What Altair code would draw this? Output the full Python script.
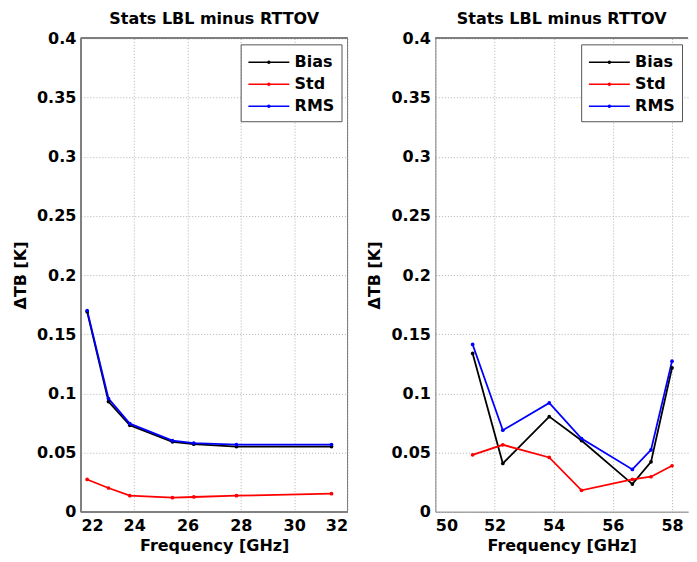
import altair as alt
import pandas as pd

# Left panel data
freq_left = [22.235, 23.035, 23.835, 25.435, 26.235, 27.835, 31.4]
bias_left = [0.169, 0.093, 0.073, 0.059, 0.057, 0.055, 0.055]
std_left = [0.0272, 0.020, 0.0135, 0.0118, 0.0124, 0.0135, 0.0152]
rms_left = [0.170, 0.0955, 0.0744, 0.060, 0.058, 0.0567, 0.0567]

# Right panel data
freq_right = [51.26, 52.28, 53.85, 54.94, 56.66, 57.29, 58.0]
bias_right = [0.1337, 0.0407, 0.0803, 0.0601, 0.0233, 0.0421, 0.1216]
std_right = [0.048, 0.0565, 0.0458, 0.018, 0.0272, 0.0295, 0.0388]
rms_right = [0.1413, 0.0688, 0.0919, 0.0618, 0.0357, 0.0522, 0.1272]

stats = ["Bias", "Std", "RMS"]
colors = ["#000000", "#ff0000", "#0000ff"]
y_ticks = [0, 0.05, 0.1, 0.15, 0.2, 0.25, 0.3, 0.35, 0.4]
x_ticks_left = [22, 24, 26, 28, 30, 32]
x_ticks_right = [50, 52, 54, 56, 58]


def make_df(freq, bias, std, rms):
    rows = []
    for name, vals in zip(stats, [bias, std, rms]):
        for f, v in zip(freq, vals):
            rows.append({"freq": f, "value": v, "stat": name})
    return pd.DataFrame(rows)


FONT = "DejaVu Sans"
LEG_SYMBOL = "M-1,0H3M0.9,0a0.1,0.1 0 1,0 0.2,0a0.1,0.1 0 1,0 -0.2,0"


def panel(df, xdomain, xticks, width, height, right_border=True):
    color = alt.Color(
        "stat:N",
        scale=alt.Scale(domain=stats, range=colors),
        sort=stats,
        legend=alt.Legend(
            title=None,
            orient="top-right",
            offset=6,
            strokeColor="#555555",
            fillColor="white",
            padding=7,
            labelFont=FONT,
            labelFontSize=16,
            labelFontWeight="bold",
            symbolType=LEG_SYMBOL,
            symbolSize=420,
            symbolStrokeWidth=1.5,
            rowPadding=3,
            labelOffset=25,
        ),
    )
    base = alt.Chart(df).encode(
        x=alt.X(
            "freq:Q",
            scale=alt.Scale(domain=xdomain, nice=False, zero=False),
            axis=alt.Axis(
                values=xticks,
                title="Frequency [GHz]",
                format="d",
            ),
        ),
        y=alt.Y(
            "value:Q",
            scale=alt.Scale(domain=[0, 0.4], nice=False),
            axis=alt.Axis(values=y_ticks, title="ΔTB [K]", format="~g"),
        ),
        color=color,
    )
    lines = base.mark_line(strokeWidth=1.8, clip=True, point=alt.OverlayMarkDef(filled=True, size=14))
    if right_border:
        border = alt.Chart(df).mark_rect(fill=None, stroke="#808080", strokeWidth=1).encode(
            x=alt.value(0), x2=alt.value(width), y=alt.value(0), y2=alt.value(height)
        )
    else:
        border = alt.Chart(df).mark_rule(stroke="#808080", strokeWidth=1).encode(
            x=alt.value(0), x2=alt.value(width), y=alt.value(0)
        )
    return alt.layer(lines, border).properties(
        width=width,
        height=height,
        title="Stats LBL minus RTTOV",
    )


left = panel(make_df(freq_left, bias_left, std_left, rms_left), [22, 32], x_ticks_left, 267, 474)
right = panel(make_df(freq_right, bias_right, std_right, rms_right), [50, 58.54], x_ticks_right, 253, 474, right_border=False)

chart = (
    alt.hconcat(left, right, spacing=18)
    .resolve_scale(color="independent")
    .properties(padding={"left": 4, "top": 3, "right": 0, "bottom": 0})
    .configure_view(stroke=None)
    .configure_axis(
        labelFont=FONT,
        labelFontSize=16,
        labelFontWeight="bold",
        labelColor="black",
        titleFont=FONT,
        titleFontSize=16,
        titleFontWeight="bold",
        titleColor="black",
        grid=True,
        gridColor="#b0b0b0",
        gridDash=[1, 2],
        gridWidth=1,
        domainColor="#808080",
        ticks=False,
        labelPadding=4,
    )
    .configure_axisY(titlePadding=8, labelPadding=5)
    .configure_axisX(titlePadding=4, labelPadding=6)
    .configure_title(font=FONT, fontSize=16, fontWeight="bold", color="black", offset=3)
)

chart.save("out.html", embed_options={"renderer": "svg", "actions": False})
